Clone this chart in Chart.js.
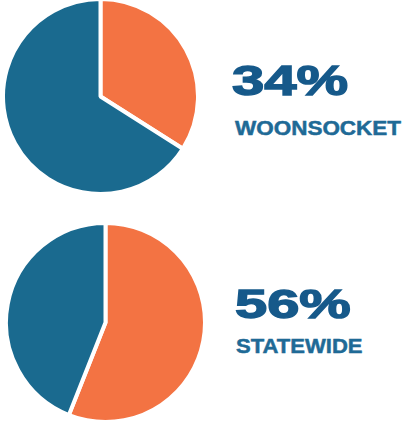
<!DOCTYPE html>
<html>
<head>
<meta charset="utf-8">
<script src="https://cdn.jsdelivr.net/npm/chart.js@4"></script>
<style>
  body { margin: 0; background: #fff; width: 406px; height: 421px; position: relative; overflow: hidden; }
  canvas { position: absolute; }
  .big, .lbl { position: absolute; font-family: "Liberation Sans", Arial, sans-serif; font-weight: bold; line-height: 1; white-space: nowrap; transform-origin: 0 0; }
  .big { color: #16598a; -webkit-text-stroke: 1.4px #16598a; }
  .lbl { color: #1f6a96; -webkit-text-stroke: 0.5px #1f6a96; }
</style>
</head>
<body>
<canvas id="pieTop" width="199" height="199" style="left:1px;top:-3px"></canvas>
<canvas id="pieBottom" width="203" height="203" style="left:3.5px;top:221px"></canvas>
<div class="big" id="pctTop" style="left:232px;top:58.6px;font-size:43px;transform:scaleX(1.35)"></div>
<div class="lbl" id="nameTop" style="left:235px;top:117.2px;font-size:21px;transform:scaleX(1.07)"></div>
<div class="big" id="pctBottom" style="left:235px;top:284.3px;font-size:41px;transform:scaleX(1.41)"></div>
<div class="lbl" id="nameBottom" style="left:236px;top:335.2px;font-size:21px;transform:scaleX(1.05)"></div>
<script>
var labels = ["Yes", "No"];
var woonsocket = [34, 66];
var statewide = [56, 44];
var names = ["WOONSOCKET", "STATEWIDE"];
var colors = ["#f37343", "#1a6a8f"];

function makePie(id, values) {
    var ctx = document.getElementById(id).getContext('2d');
    return new Chart(ctx, {
        type: 'pie',
        data: {
            labels: labels,
            datasets: [{
                data: values,
                backgroundColor: colors,
                borderColor: '#ffffff',
                borderWidth: 4
            }]
        },
        options: {
            responsive: false,
            animation: false,
            plugins: {
                legend: { display: false },
                tooltip: { enabled: false }
            }
        }
    });
}

makePie("pieTop", woonsocket);
makePie("pieBottom", statewide);

document.getElementById("pctTop").textContent = woonsocket[0] + "%";
document.getElementById("nameTop").textContent = names[0];
document.getElementById("pctBottom").textContent = statewide[0] + "%";
document.getElementById("nameBottom").textContent = names[1];
</script>
</body>
</html>
